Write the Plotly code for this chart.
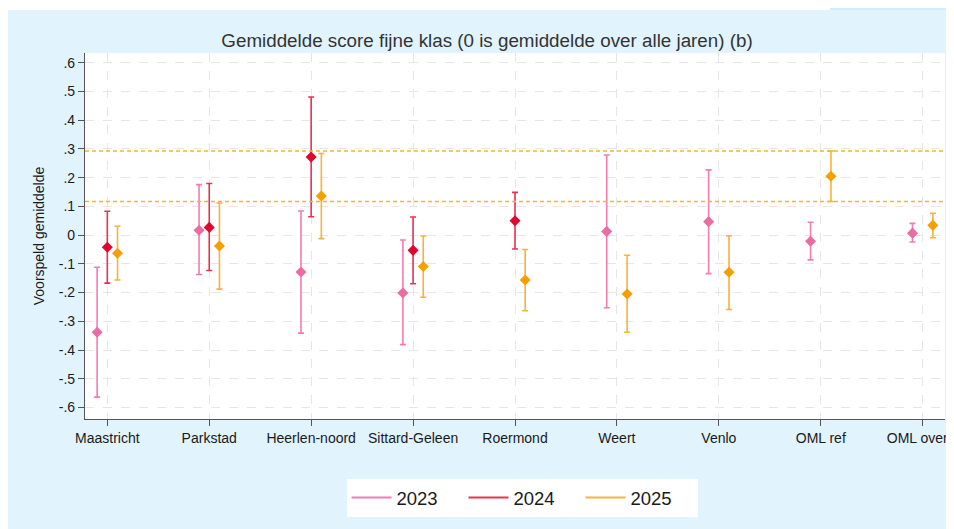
import plotly.graph_objects as go

categories = ["Maastricht", "Parkstad", "Heerlen-noord", "Sittard-Geleen", "Roermond",
              "Weert", "Venlo", "OML ref", "OML overig"]

est_2023 = [-0.338, 0.017, -0.128, -0.201, None, 0.013, 0.047, -0.021, 0.007]
lo_2023 = [-0.564, -0.137, -0.341, -0.381, None, -0.253, -0.134, -0.086, -0.024]
hi_2023 = [-0.112, 0.176, 0.084, -0.017, None, 0.279, 0.227, 0.045, 0.041]

est_2024 = [-0.042, 0.027, 0.272, -0.053, 0.050, None, None, None, None]
lo_2024 = [-0.167, -0.123, 0.064, -0.169, -0.048, None, None, None, None]
hi_2024 = [0.083, 0.180, 0.481, 0.063, 0.149, None, None, None, None]

est_2025 = [-0.063, -0.038, 0.136, -0.109, -0.156, -0.205, -0.129, 0.205, 0.034]
lo_2025 = [-0.156, -0.188, -0.012, -0.216, -0.263, -0.338, -0.259, 0.117, -0.009]
hi_2025 = [0.031, 0.112, 0.284, -0.003, -0.050, -0.070, -0.002, 0.293, 0.076]

y_ticks = [0.6, 0.5, 0.4, 0.3, 0.2, 0.1, 0.0, -0.1, -0.2, -0.3, -0.4, -0.5, -0.6]
y_ticktext = [".6", ".5", ".4", ".3", ".2", ".1", "0", "-.1", "-.2", "-.3", "-.4", "-.5", "-.6"]

years = ["2023", "2024", "2025"]
series = [(est_2023, lo_2023, hi_2023), (est_2024, lo_2024, hi_2024), (est_2025, lo_2025, hi_2025)]
offsets = [-0.1, 0.0, 0.1]
marker_colors = ["#EB6CA2", "#E1062E", "#F5A000"]
bar_colors = ["#F27DB1", "#E5334F", "#F8B13A"]

FONT = "Liberation Sans, Arial, sans-serif"

# page body has an 8px margin; figure is sized / placed to compensate
W, H = 946, 521
L, T = 77, 45
PLOT_W, PLOT_H = 860, 366

fig = go.Figure()
for yr, (est, lo, hi), off, mc, bc in zip(years, series, offsets, marker_colors, bar_colors):
    xs, ys, ep, em = [], [], [], []
    for i, e in enumerate(est):
        if e is None:
            continue
        xs.append(i + off)
        ys.append(e)
        ep.append(hi[i] - e)
        em.append(e - lo[i])
    fig.add_trace(go.Scatter(
        x=xs, y=ys, mode="markers", showlegend=False, name=yr,
        marker=dict(symbol="diamond", size=8.5, color=mc),
        error_y=dict(type="data", array=ep, arrayminus=em, symmetric=False,
                     color=bc, thickness=1.6, width=3),
    ))
    fig.add_trace(go.Scatter(
        x=[None], y=[None], mode="lines", name=yr, showlegend=True,
        line=dict(color=bc, width=2),
    ))

# reference lines at OML ref 2025 confidence bounds
for yv in (hi_2025[7], lo_2025[7]):
    fig.add_shape(type="line", xref="paper", yref="y", x0=0, x1=1, y0=yv, y1=yv,
                  line=dict(color="#F9B233", width=1.5, dash="4px,3px"), layer="above")

# screenshot background decorations (top strip)
def py(pix):
    return (T + PLOT_H - pix) / PLOT_H

def px(pix):
    return (pix - L) / PLOT_W

fig.add_shape(type="rect", xref="paper", yref="paper", x0=px(-2), x1=px(W + 2),
              y0=py(2), y1=py(-2), fillcolor="white", line_width=0, layer="below")
fig.add_shape(type="rect", xref="paper", yref="paper", x0=px(822), x1=px(W + 2),
              y0=py(2), y1=py(-2), fillcolor="#D3ECFA", line_width=0, layer="below")

fig.update_layout(
    width=W, height=H,
    margin=dict(l=L, r=W - L - PLOT_W, t=T, b=H - T - PLOT_H),
    paper_bgcolor="#E1F3FC",
    plot_bgcolor="white",
    font=dict(family=FONT, color="#1A1A1A", size=14),
    title=dict(text="Gemiddelde score fijne klas (0 is gemiddelde over alle jaren) (b)",
               x=px(487 - 8), xref="paper", xanchor="center",
               y=1 - 32 / H, yref="container", yanchor="middle",
               font=dict(family=FONT, size=18.8, color="#333333")),
    showlegend=True,
    legend=dict(orientation="h", x=px(522 - 8), xanchor="center",
                y=py(479 - 8), yanchor="top", bgcolor="white",
                font=dict(family=FONT, size=18.5, color="#1A1A1A"),
                itemwidth=40, entrywidth=62, entrywidthmode="pixels"),
)
fig.update_xaxes(
    range=[-0.219, 8.219], tickmode="array", tickvals=list(range(len(categories))),
    ticktext=categories, showline=True, linecolor="#555555", linewidth=1.2,
    ticks="outside", ticklen=6, tickcolor="#555555", ticklabeloverflow="allow",
    showgrid=True, gridcolor="#E6E6E6", griddash="dash", gridwidth=1,
    zeroline=False, automargin=False, tickfont=dict(size=14),
)
fig.update_yaxes(
    range=[-0.640, 0.634], tickmode="array", tickvals=y_ticks, ticktext=y_ticktext,
    showline=True, linecolor="#555555", linewidth=1.2,
    ticks="outside", ticklen=6, tickcolor="#555555",
    showgrid=True, gridcolor="#E6E6E6", griddash="dash", gridwidth=1,
    zeroline=False, automargin=False, tickfont=dict(size=14),
    title=dict(text="Voorspeld gemiddelde", standoff=10, font=dict(size=14)),
)

fig.write_html("out.html")
